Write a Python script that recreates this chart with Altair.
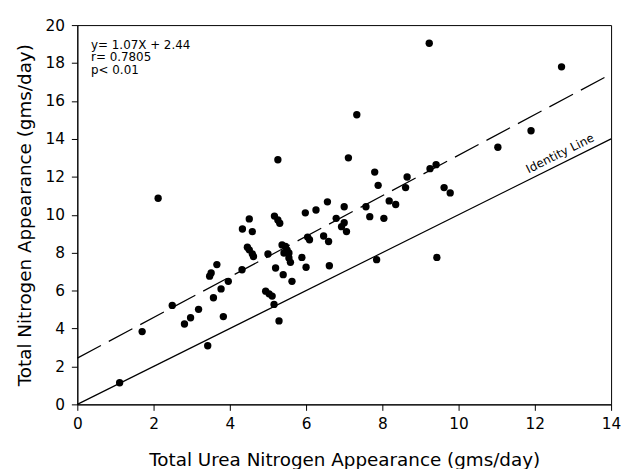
import altair as alt
import pandas as pd

# Scatter data
urea = [1.11, 1.70, 2.12, 2.49, 2.81, 2.97, 3.18, 3.42, 3.47, 3.51,
        3.66, 3.57, 3.77, 3.83, 3.96, 4.32, 4.33, 4.51, 4.59, 4.46,
        4.51, 4.59, 4.62, 5.00, 4.94, 5.03, 5.11, 5.16, 5.29, 5.20,
        5.26, 5.17, 5.26, 5.31, 5.37, 5.46, 5.50, 5.55, 5.42, 5.55,
        5.59, 5.40, 5.63, 5.89, 6.00, 6.04, 6.09, 5.98, 6.26, 6.46,
        6.59, 6.61, 6.56, 6.79, 7.00, 7.00, 6.93, 7.06, 7.11, 7.33,
        7.57, 7.67, 7.80, 7.85, 7.89, 8.04, 8.18, 8.35, 8.61, 8.65,
        9.23, 9.25, 9.41, 9.43, 9.62, 9.78, 11.03, 11.90, 12.70]
total_n = [1.14, 3.84, 10.87, 5.22, 4.24, 4.57, 5.01, 3.09, 6.76, 6.93,
           7.37, 5.62, 6.09, 4.63, 6.49, 7.10, 9.25, 9.78, 9.11, 8.29,
           8.15, 7.94, 7.80, 7.93, 5.97, 5.83, 5.71, 5.27, 4.40, 7.19,
           12.90, 9.93, 9.72, 9.55, 8.41, 8.33, 8.15, 7.98, 7.98, 7.72,
           7.49, 6.84, 6.49, 7.75, 7.23, 8.82, 8.68, 10.10, 10.25, 8.88,
           8.59, 7.31, 10.68, 9.81, 10.42, 9.58, 9.37, 9.11, 13.00, 15.27,
           10.42, 9.90, 12.25, 7.63, 11.55, 9.81, 10.73, 10.54, 11.43, 11.99,
           19.04, 12.43, 12.64, 7.75, 11.43, 11.15, 13.56, 14.43, 17.80]

# Regression and identity lines
slope = 1.07
intercept = 2.44
line_x = [0, 14]

# Annotation text
ann_text = ["y= 1.07X + 2.44", "r= 0.7805", "p< 0.01"]
ann_x = [0.36, 0.36, 0.36]
ann_y = [18.76, 18.10, 17.43]

identity_label = ["Identity Line"]
identity_x = [12.66]
identity_y = [13.23]

x_ticks = [0, 2, 4, 6, 8, 10, 12, 14]
y_ticks = [0, 2, 4, 6, 8, 10, 12, 14, 16, 18, 20]

FONT = "DejaVu Sans"

df = pd.DataFrame({"urea": urea, "tn": total_n})
fit_df = pd.DataFrame({"urea": line_x, "tn": [slope * v + intercept for v in line_x]})
id_df = pd.DataFrame({"urea": line_x, "tn": line_x})
ann_df = pd.DataFrame({"urea": ann_x, "tn": ann_y, "label": ann_text})
idl_df = pd.DataFrame({"urea": identity_x, "tn": identity_y, "label": identity_label})

xs = alt.Scale(domain=[0, 14], nice=False, zero=False)
ys = alt.Scale(domain=[0, 20], nice=False, zero=False)

x_axis = alt.Axis(values=x_ticks, title="Total Urea Nitrogen Appearance (gms/day)",
                  titleY=61.6, titleBaseline="alphabetic", tickSize=6, labelPadding=6,
                  labelFlush=False, labelOverlap=False, format="d")
y_axis = alt.Axis(values=y_ticks, title="Total Nitrogen Appearance (gms/day)",
                  titleX=-47, titleY=191.5, titleBaseline="alphabetic", titleAngle=270,
                  titleAlign="center", tickSize=6, labelPadding=7,
                  labelFlush=False, labelOverlap=False, format="d")


def enc(chart, **extra):
    return chart.encode(
        x=alt.X("urea:Q", scale=xs, axis=x_axis),
        y=alt.Y("tn:Q", scale=ys, axis=y_axis),
        **extra,
    )


points = enc(alt.Chart(df).mark_circle(size=55, color="black", opacity=1))
fit_line = enc(alt.Chart(fit_df).mark_line(color="black", strokeWidth=1.2, strokeDash=[27, 9]))
id_line = enc(alt.Chart(id_df).mark_line(color="black", strokeWidth=1.2))
ann = enc(alt.Chart(ann_df).mark_text(align="left", baseline="alphabetic", font=FONT,
                                      fontSize=12, color="black"), text="label:N")
idl = enc(alt.Chart(idl_df).mark_text(align="center", baseline="middle", font=FONT,
                                      fontSize=12, color="black", angle=333.6), text="label:N")

chart = alt.layer(id_line, fit_line, points, ann, idl).properties(
    width=539, height=383,
    padding={"left": 70, "top": 15, "right": 10, "bottom": 63},
    autosize=alt.AutoSizeParams(type="none"),
).configure_view(stroke="black", strokeWidth=1).configure_axis(
    grid=False, domainColor="black", tickColor="black", labelColor="black",
    titleColor="black", labelFont=FONT, titleFont=FONT, labelFontSize=15.5,
    titleFontSize=18.5, titleFontWeight="normal", domainWidth=1, tickWidth=1,
)

chart.save("out.html", embed_options={"renderer": "svg", "actions": False})
